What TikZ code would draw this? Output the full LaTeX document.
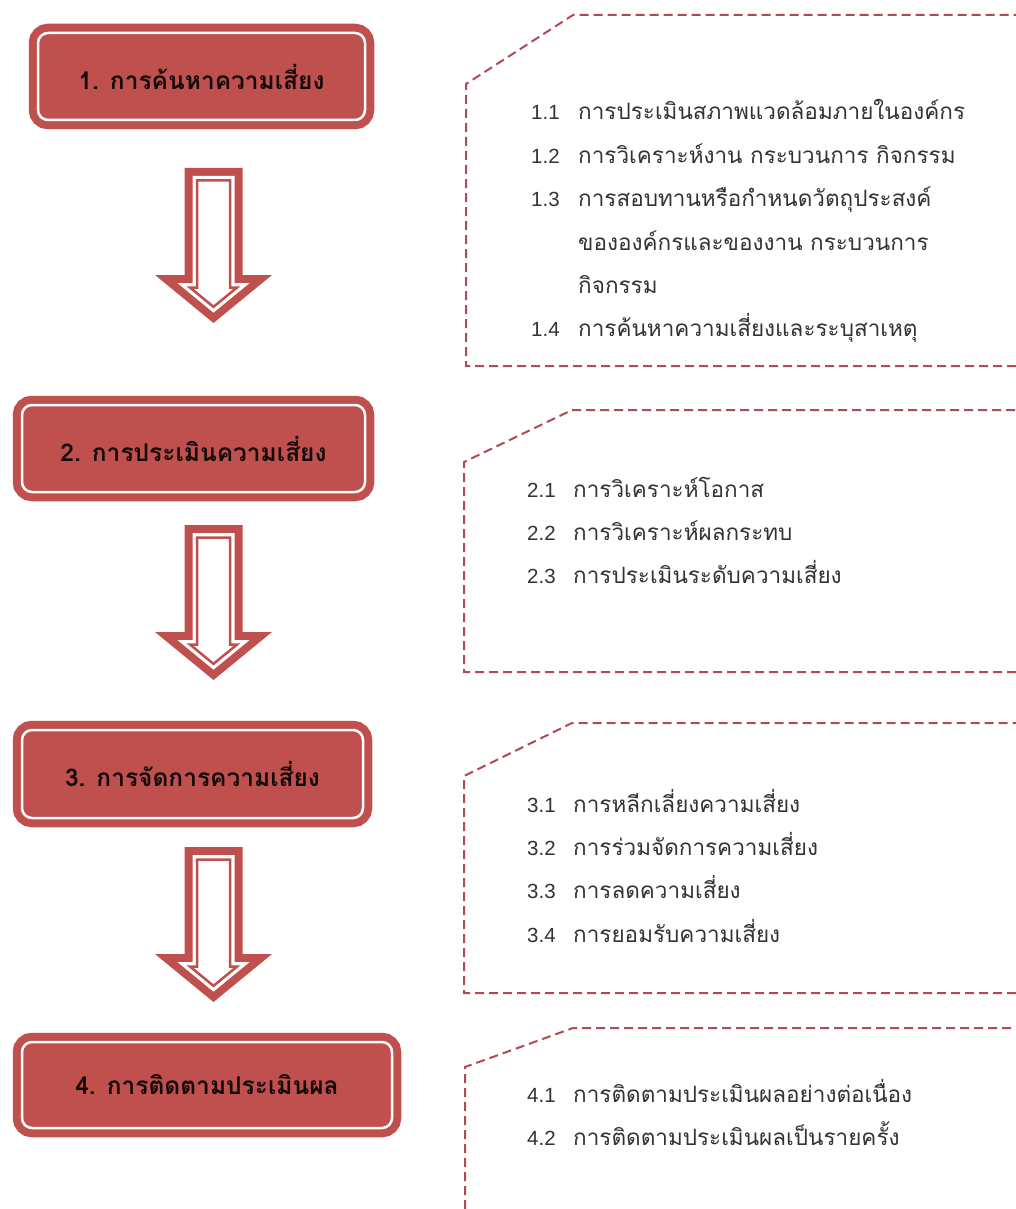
\documentclass[tikz,border=0pt]{standalone}
\usepackage{fontspec}
\usepackage{array}
\setmainfont{Liberation Sans}
\newfontfamily\thaifont[Script=Thai]{Loma}
\usepackage{xcolor}
\usetikzlibrary{positioning}
\definecolor{riskred}{HTML}{C0504D}
\definecolor{dashred}{HTML}{B04B55}
\definecolor{labelink}{HTML}{140A0A}
\definecolor{itemink}{HTML}{333333}

% block arrow outline, shrunk inwards by #1
\newcommand{\arrowpath}[1]{({-29+#1},{#1}) -- ({29-#1},{#1}) -- ({29-#1},{107+#1})
  -- ({58.5-2.795*#1},{107+#1}) -- (0,{155-1.293*#1})
  -- ({-58.5+2.795*#1},{107+#1}) -- ({-29+#1},{107+#1}) -- cycle}
\newcommand{\itemfont}{\fontsize{20.5}{43.4}\selectfont}
\newcolumntype{T}{>{\thaifont\fontsize{22.5}{43.4}\selectfont}l}

\begin{document}
\begin{tikzpicture}[x=1pt, y=-1pt,
  stepbox/.style={rounded corners=10pt, fill=riskred, draw=riskred, double=white,
    double distance=2.5pt, line width=8pt, text=labelink,
    font=\thaifont\bfseries\fontsize{24.5}{28}\selectfont},
  items/.style={anchor=base west, inner sep=0pt, font=\itemfont, text=itemink},
  panel/.style={dashred, line width=2pt, dash pattern=on 9pt off 5pt},
  flowarrow/.pic={
    \fill[riskred] \arrowpath{0};
    \fill[white] \arrowpath{8};
    \draw[riskred, line width=2.5pt] \arrowpath{12.5};
  }
]
  \useasboundingbox[fill=white] (0,0) rectangle (1016,1209);

  % Steps
  \node[stepbox, minimum width=327pt, minimum height=87pt] (find) at (201.5,76.5) {1. การค้นหาความเสี่ยง};
  \node[stepbox, minimum width=343pt, minimum height=87pt] (assess) at (193.5,448.5) {2. การประเมินความเสี่ยง};
  \node[stepbox, minimum width=341pt, minimum height=88pt] (manage) at (192.5,774) {3. การจัดการความเสี่ยง};
  \node[stepbox, minimum width=370pt, minimum height=86pt] (monitor) at (207,1085) {4. การติดตามประเมินผล};

  % Arrows between steps
  \pic at (213.5,168) {flowarrow};
  \pic at (213.5,525) {flowarrow};
  \pic at (213.5,847) {flowarrow};

  % Dashed panels
  \draw[panel] (1016,366) -- (466,366) -- (466,84) -- (573,15) -- (1016,15);
  \draw[panel] (1016,672) -- (464,672) -- (464,462) -- (572,410) -- (1016,410);
  \draw[panel] (1016,993) -- (464,993) -- (464,776) -- (572,723) -- (1016,723);
  \draw[panel] (465,1209) -- (465,1067) -- (573,1028) -- (1016,1028);

  % Sub-steps
  \node[items] (findlist) at (531,120) {\begin{tabular}[t]{@{}p{47pt}@{}T@{}}
    1.1 & การประเมินสภาพแวดล้อมภายในองค์กร\\
    1.2 & การวิเคราะห์งาน กระบวนการ กิจกรรม\\
    1.3 & การสอบทานหรือกำหนดวัตถุประสงค์\\
        & ขององค์กรและของงาน กระบวนการ\\
        & กิจกรรม\\
    1.4 & การค้นหาความเสี่ยงและระบุสาเหตุ
  \end{tabular}};
  \node[items] (assesslist) at (527,497) {\begin{tabular}[t]{@{}p{46pt}@{}T@{}}
    2.1 & การวิเคราะห์โอกาส\\
    2.2 & การวิเคราะห์ผลกระทบ\\
    2.3 & การประเมินระดับความเสี่ยง
  \end{tabular}};
  \node[items] (managelist) at (527,812) {\begin{tabular}[t]{@{}p{46pt}@{}T@{}}
    3.1 & การหลีกเลี่ยงความเสี่ยง\\
    3.2 & การร่วมจัดการความเสี่ยง\\
    3.3 & การลดความเสี่ยง\\
    3.4 & การยอมรับความเสี่ยง
  \end{tabular}};
  \node[items] (monitorlist) at (527,1102) {\begin{tabular}[t]{@{}p{46pt}@{}T@{}}
    4.1 & การติดตามประเมินผลอย่างต่อเนื่อง\\
    4.2 & การติดตามประเมินผลเป็นรายครั้ง
  \end{tabular}};
\end{tikzpicture}
\end{document}
